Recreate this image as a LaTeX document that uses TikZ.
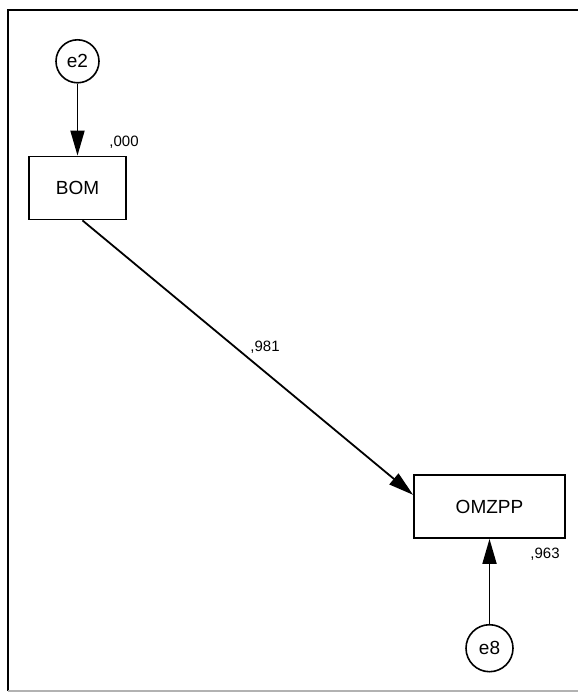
\documentclass[tikz,border=0pt]{standalone}
\usepackage{fontspec}
\setmainfont{Liberation Sans}
\usetikzlibrary{arrows.meta,positioning,calc}
\begin{document}
\begin{tikzpicture}[x=1pt, y=-1pt,
		obs/.style = {draw, rectangle, line width=1.8pt, minimum height=63pt, inner sep=0pt, font=\fontsize{19}{21}\selectfont},
		err/.style = {draw, circle, line width=1.6pt, inner sep=0pt, font=\fontsize{19}{21}\selectfont},
		est/.style = {font=\fontsize{15}{17}\selectfont, inner sep=0pt},
		path/.style = {-{Triangle[length=25pt,width=14pt]}, line width=1.8pt}]
	\useasboundingbox (0,0) rectangle (578,692);
	% frame
	\draw[line width=2pt] (8,691) -- (8,10) -- (578,10);
	\draw[line width=1.5pt, gray!60] (8,691) -- (578,691);
	% variables
	\node[obs, minimum width=97pt] (BOM) at (77.5,188) {BOM};
	\node[obs, minimum width=151pt] (OMZPP) at (489.5,506.5) {OMZPP};
	\node[err, minimum size=43pt] (e2) [above=72pt of BOM] {e2};
	\node[err, minimum size=47pt] (e8) [below=85pt of OMZPP] {e8};
	% estimates
	\node[est] (r2BOM) at (124,142) {,000};
	\node[est] (r2OMZPP) at (545,554) {,963};
	\node[est] (bBOM) at (265,347) {,981};
	% paths
	\draw[path] (e2) -- (BOM);
	\draw[path] (e8) -- (OMZPP);
	\draw[path] ($(BOM.south west)!0.55!(BOM.south east)$) -- ($(OMZPP.north west)!0.32!(OMZPP.south west)$);
\end{tikzpicture}
\end{document}
